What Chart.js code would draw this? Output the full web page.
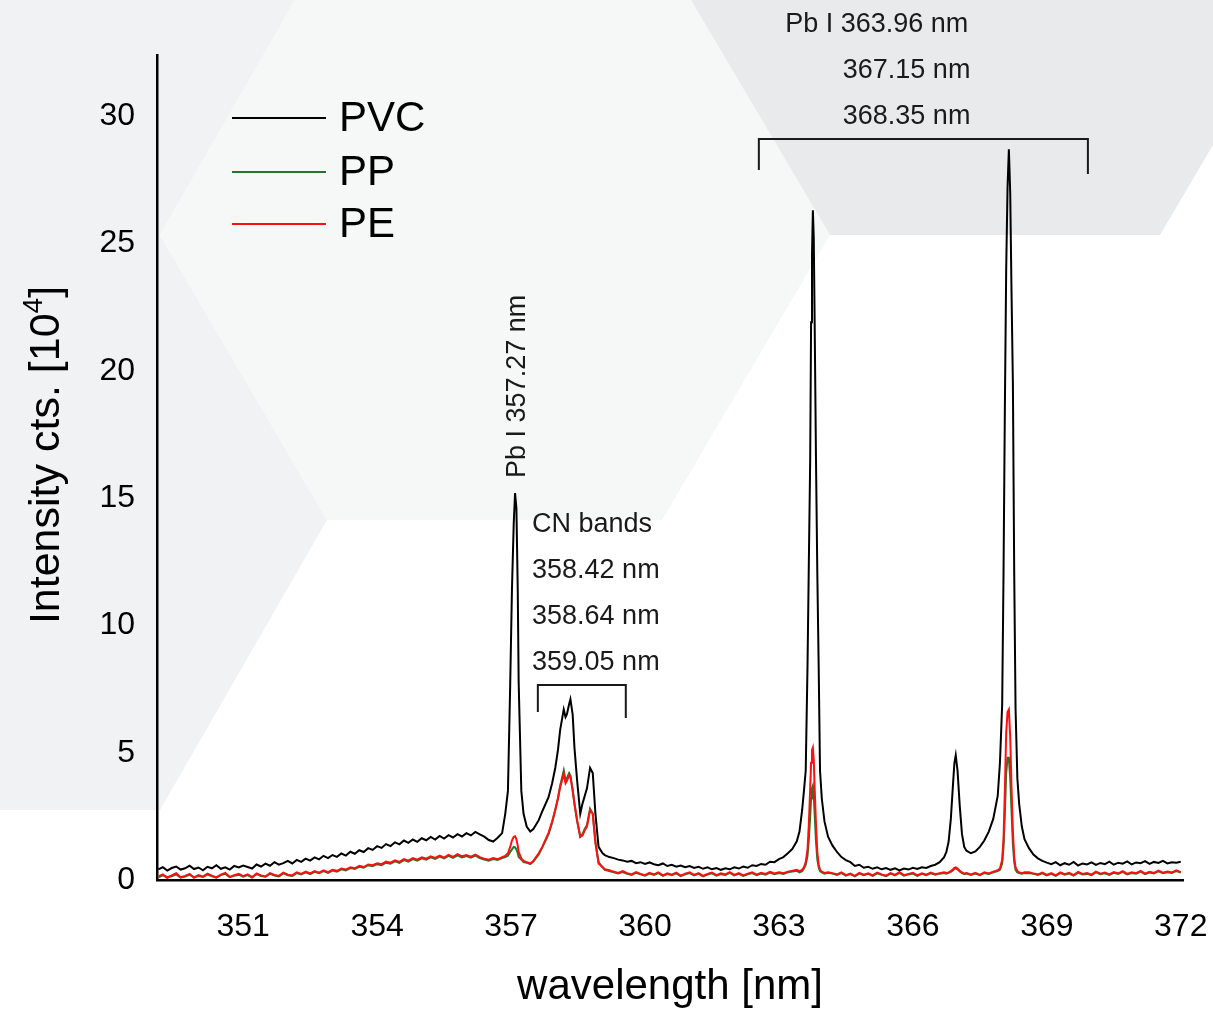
<!DOCTYPE html>
<html>
<head>
<meta charset="utf-8">
<title>LIBS spectra PVC / PP / PE</title>
<script src="https://cdn.jsdelivr.net/npm/chart.js@4.4.1/dist/chart.umd.min.js"></script>
<style>
    html, body { margin: 0; padding: 0; background: #fff; }
    #wrap { position: relative; width: 1213px; height: 1009px; }
</style>
</head>
<body>
<div id="wrap"><canvas id="spectrum"></canvas></div>
<script>
// wavelength grid [nm] (finer steps around the lines)
const wavelength = [
    349.1, 349.2, 349.3, 349.4, 349.5, 349.6, 349.7, 349.8, 349.9, 350.0,
    350.1, 350.2, 350.3, 350.4, 350.5, 350.6, 350.7, 350.8, 350.9, 351.0,
    351.1, 351.2, 351.3, 351.4, 351.5, 351.6, 351.7, 351.8, 351.9, 352.0,
    352.1, 352.2, 352.3, 352.4, 352.5, 352.6, 352.7, 352.8, 352.9, 353.0,
    353.1, 353.2, 353.3, 353.4, 353.5, 353.6, 353.7, 353.8, 353.9, 354.0,
    354.1, 354.2, 354.3, 354.4, 354.5, 354.6, 354.7, 354.8, 354.9, 355.0,
    355.1, 355.2, 355.3, 355.4, 355.5, 355.6, 355.7, 355.8, 355.9, 356.0,
    356.1, 356.2, 356.3, 356.4, 356.5, 356.6, 356.7, 356.8,
    // Pb I 357.27
    356.87, 356.93, 356.98, 357.02, 357.06, 357.09, 357.12, 357.15, 357.17, 357.23, 357.28, 357.35,
    // CN bands
    357.43, 357.5, 357.62, 357.7, 357.84, 357.92, 357.99, 358.05, 358.1, 358.14, 358.18, 358.22, 358.25, 358.3,
    358.33, 358.38, 358.42, 358.48, 358.55, 358.6, 358.65, 358.7, 358.77, 358.83, 358.89, 358.96, 359.05,
    359.1, 359.2, 359.3, 359.4, 359.5, 359.6, 359.7, 359.8, 359.9, 360.0,
    360.1, 360.2, 360.3, 360.4, 360.5, 360.6, 360.7, 360.8, 360.9, 361.0,
    361.1, 361.2, 361.3, 361.4, 361.5, 361.6, 361.7, 361.8, 361.9, 362.0,
    362.1, 362.2, 362.3, 362.4, 362.5, 362.6, 362.7, 362.8, 362.9, 363.0,
    363.1, 363.2, 363.3, 363.4,
    // Pb I 363.96
    363.46, 363.52, 363.56, 363.6, 363.64, 363.67, 363.7, 363.72, 363.74, 363.76,
    363.78, 363.8, 363.83, 363.86, 363.89, 363.92, 363.96, 364.02, 364.1,
    364.2, 364.3, 364.4, 364.5, 364.6, 364.7, 364.8, 364.9, 365.0,
    365.1, 365.2, 365.3, 365.4, 365.5, 365.6, 365.7, 365.8, 365.9, 366.0,
    366.1, 366.2, 366.3, 366.4, 366.5, 366.6, 366.7,
    // Pb I 367.15
    366.75, 366.8, 366.85, 366.9, 366.93, 366.96, 367.0, 367.05, 367.1, 367.15, 367.2,
    367.3, 367.4, 367.5, 367.6, 367.7, 367.8, 367.9,
    // Pb I 368.35
    367.95, 368.0, 368.03, 368.06, 368.09, 368.12, 368.15, 368.18, 368.21, 368.24, 368.27, 368.3,
    368.34, 368.38, 368.44, 368.5,
    368.6, 368.7, 368.8, 368.9, 369.0,
    369.1, 369.2, 369.3, 369.4, 369.5, 369.6, 369.7, 369.8, 369.9, 370.0,
    370.1, 370.2, 370.3, 370.4, 370.5, 370.6, 370.7, 370.8, 370.9, 371.0,
    371.1, 371.2, 371.3, 371.4, 371.5, 371.6, 371.7, 371.8, 371.9, 372.0
];

// intensity [10^4 cts]
const pvcCounts = [
    0.42, 0.50, 0.37, 0.47, 0.53, 0.41, 0.46, 0.56, 0.43, 0.49,
    0.38, 0.52, 0.46, 0.58, 0.44, 0.50, 0.41, 0.55, 0.49, 0.57,
    0.51, 0.45, 0.61, 0.53, 0.64, 0.56, 0.70, 0.60, 0.66, 0.75,
    0.65, 0.79, 0.71, 0.84, 0.76, 0.89, 0.81, 0.95, 0.86, 0.98,
    0.91, 1.04, 0.96, 1.11, 1.03, 1.17, 1.10, 1.25, 1.18, 1.33,
    1.26, 1.41, 1.33, 1.48, 1.40, 1.55, 1.46, 1.59, 1.50, 1.64,
    1.56, 1.69, 1.59, 1.73, 1.63, 1.76, 1.67, 1.80, 1.71, 1.84,
    1.75, 1.89, 1.79, 1.70, 1.57, 1.51, 1.66, 1.84,
    2.6, 3.5, 7.6, 11.4, 14.0, 15.2, 14.6, 11.4, 7.8, 3.5, 2.6, 2.1,
    1.9, 2.0, 2.35, 2.7, 3.25, 3.8, 4.4, 5.1, 5.9, 6.3, 6.7, 6.4, 6.5, 6.9,
    7.1, 6.5, 5.2, 3.9, 2.6, 3.0, 3.3, 3.6, 4.4, 4.2, 2.6, 1.3, 1.05,
    0.98, 0.90, 0.86, 0.80, 0.77, 0.72, 0.75, 0.66, 0.70, 0.63,
    0.69, 0.62, 0.58, 0.65, 0.55, 0.60, 0.52, 0.57, 0.50, 0.55,
    0.47, 0.52, 0.44, 0.50, 0.42, 0.47, 0.40, 0.46, 0.42, 0.50,
    0.45, 0.53, 0.48, 0.58, 0.55, 0.63, 0.60, 0.72, 0.70, 0.82,
    0.90, 1.05, 1.22, 1.52,
    1.9, 2.75, 3.5, 4.3, 8.4, 12.5, 16.5, 21.9, 24.5, 26.3,
    25.2, 21.9, 16.5, 12.0, 8.4, 4.3, 3.2, 2.3, 1.7,
    1.35, 1.10, 0.90, 0.78, 0.70, 0.55, 0.60, 0.48, 0.52,
    0.44, 0.50, 0.42, 0.47, 0.40, 0.46, 0.38, 0.45, 0.41, 0.48,
    0.43, 0.50, 0.47, 0.55, 0.60, 0.70, 0.90,
    1.1, 1.5, 2.4, 3.8, 4.6, 4.9, 4.3, 2.9, 1.8, 1.3, 1.15,
    1.05, 1.12, 1.3, 1.55, 1.9, 2.4, 3.3,
    4.6, 6.9, 12.0, 18.5, 24.0, 27.2, 28.7, 27.0, 23.0, 19.5, 12.0, 6.7,
    4.0, 3.0, 2.1, 1.6,
    1.25, 1.00, 0.85, 0.75, 0.68,
    0.62, 0.70, 0.58, 0.66, 0.60, 0.71, 0.57, 0.65, 0.61, 0.69,
    0.59, 0.67, 0.62, 0.72, 0.60, 0.68, 0.64, 0.73, 0.61, 0.69,
    0.66, 0.74, 0.63, 0.71, 0.67, 0.75, 0.65, 0.70, 0.68, 0.72
];

const ppCounts = [
    0.10, 0.18, 0.12, 0.15, 0.22, 0.09, 0.14, 0.20, 0.11, 0.16,
    0.12, 0.21, 0.15, 0.09, 0.19, 0.24, 0.11, 0.17, 0.21, 0.13,
    0.19, 0.10, 0.23, 0.16, 0.13, 0.24, 0.18, 0.14, 0.26, 0.19,
    0.16, 0.27, 0.22, 0.30, 0.23, 0.32, 0.27, 0.35, 0.28, 0.37,
    0.33, 0.42, 0.38, 0.47, 0.43, 0.52, 0.48, 0.58, 0.54, 0.62,
    0.58, 0.68, 0.64, 0.73, 0.67, 0.78, 0.72, 0.82, 0.76, 0.85,
    0.80, 0.89, 0.83, 0.92, 0.85, 0.95, 0.87, 0.97, 0.89, 0.94,
    0.88, 0.96, 0.86, 0.80, 0.76, 0.82, 0.79, 0.86,
    0.9, 0.95, 1.1, 1.2, 1.3, 1.28, 1.2, 1.05, 0.9, 0.8, 0.7, 0.68,
    0.62, 0.72, 1.0, 1.28, 1.8, 2.25, 2.75, 3.2, 3.7, 4.0, 4.3, 3.9, 4.0, 4.2,
    4.1, 3.55, 3.0, 2.3, 1.7, 1.8, 2.0, 2.15, 2.8, 2.6, 1.5, 0.7, 0.5,
    0.40, 0.35, 0.30, 0.26, 0.31, 0.24, 0.20, 0.28, 0.22, 0.17,
    0.25, 0.20, 0.27, 0.16, 0.23, 0.19, 0.26, 0.15, 0.22, 0.27,
    0.18, 0.24, 0.14, 0.21, 0.26, 0.17, 0.23, 0.20, 0.28, 0.18,
    0.24, 0.16, 0.22, 0.27, 0.19, 0.25, 0.21, 0.29, 0.23, 0.27,
    0.24, 0.30, 0.33, 0.36,
    0.3, 0.35, 0.45, 0.6, 0.95, 1.6, 2.5, 3.2, 3.6, 3.7,
    3.3, 2.6, 1.5, 0.8, 0.5, 0.35, 0.3, 0.25, 0.28,
    0.25, 0.20, 0.27, 0.17, 0.23, 0.14, 0.25, 0.19, 0.24,
    0.16, 0.26, 0.20, 0.15, 0.25, 0.18, 0.28, 0.17, 0.22, 0.25,
    0.16, 0.24, 0.19, 0.26, 0.21, 0.25, 0.27,
    0.25, 0.28, 0.32, 0.38, 0.44, 0.46, 0.42, 0.33, 0.27, 0.24, 0.25,
    0.20, 0.25, 0.19, 0.27, 0.24, 0.30, 0.35,
    0.4, 0.65, 1.3, 2.6, 4.2, 4.8, 4.8, 4.0, 2.7, 1.4, 0.7, 0.4,
    0.3, 0.27, 0.25, 0.27,
    0.27, 0.24, 0.20, 0.26, 0.18,
    0.24, 0.16, 0.27, 0.21, 0.25, 0.17, 0.29, 0.22, 0.24, 0.19,
    0.30, 0.23, 0.26, 0.20, 0.28, 0.24, 0.32, 0.22, 0.27, 0.25,
    0.33, 0.23, 0.29, 0.26, 0.34, 0.27, 0.30, 0.28, 0.35, 0.29
];

const peCounts = [
    0.14, 0.22, 0.08, 0.18, 0.27, 0.11, 0.16, 0.24, 0.09, 0.19,
    0.13, 0.25, 0.17, 0.10, 0.21, 0.28, 0.12, 0.19, 0.24, 0.15,
    0.22, 0.11, 0.26, 0.18, 0.14, 0.27, 0.20, 0.16, 0.29, 0.21,
    0.18, 0.30, 0.24, 0.33, 0.26, 0.35, 0.29, 0.38, 0.31, 0.40,
    0.36, 0.45, 0.41, 0.50, 0.46, 0.56, 0.51, 0.61, 0.58, 0.66,
    0.62, 0.72, 0.68, 0.77, 0.71, 0.82, 0.76, 0.86, 0.80, 0.89,
    0.84, 0.93, 0.87, 0.96, 0.88, 0.99, 0.91, 1.02, 0.93, 0.98,
    0.92, 1.00, 0.90, 0.84, 0.80, 0.86, 0.82, 0.90,
    0.95, 1.05, 1.3, 1.55, 1.7, 1.72, 1.6, 1.35, 1.1, 0.85, 0.75, 0.7,
    0.65, 0.75, 1.05, 1.3, 1.85, 2.3, 2.75, 3.2, 3.65, 3.9, 4.2, 3.8, 3.9, 4.1,
    4.05, 3.5, 3.0, 2.35, 1.7, 1.75, 1.95, 2.1, 2.75, 2.6, 1.45, 0.65, 0.5,
    0.42, 0.38, 0.33, 0.28, 0.35, 0.27, 0.22, 0.31, 0.24, 0.19,
    0.28, 0.22, 0.30, 0.18, 0.26, 0.21, 0.29, 0.17, 0.25, 0.30,
    0.20, 0.27, 0.16, 0.24, 0.29, 0.19, 0.26, 0.22, 0.31, 0.20,
    0.27, 0.18, 0.25, 0.30, 0.21, 0.28, 0.24, 0.32, 0.26, 0.30,
    0.27, 0.33, 0.36, 0.40,
    0.35, 0.4, 0.5, 0.7, 1.2, 2.2, 3.6, 4.6, 5.1, 5.2,
    4.7, 3.6, 2.2, 1.1, 0.6, 0.4, 0.33, 0.28, 0.3,
    0.27, 0.22, 0.30, 0.19, 0.25, 0.16, 0.28, 0.21, 0.26,
    0.18, 0.29, 0.22, 0.17, 0.27, 0.20, 0.31, 0.19, 0.24, 0.28,
    0.18, 0.26, 0.21, 0.29, 0.23, 0.27, 0.30,
    0.28, 0.3, 0.35, 0.42, 0.48, 0.5, 0.45, 0.36, 0.3, 0.25, 0.27,
    0.22, 0.28, 0.20, 0.30, 0.26, 0.33, 0.38,
    0.45, 0.8, 1.6, 3.5, 5.8, 6.6, 6.7, 5.6, 3.6, 1.9, 0.9, 0.5,
    0.35, 0.3, 0.27, 0.3,
    0.30, 0.26, 0.22, 0.29, 0.20,
    0.27, 0.18, 0.30, 0.23, 0.28, 0.19, 0.32, 0.24, 0.27, 0.21,
    0.33, 0.25, 0.29, 0.22, 0.31, 0.26, 0.35, 0.24, 0.30, 0.27,
    0.36, 0.25, 0.32, 0.28, 0.37, 0.29, 0.33, 0.30, 0.38, 0.31
];

const seriesNames = ['PVC', 'PP', 'PE'];
const seriesColors = ['#000000', '#22782a', '#ff1010'];
const xTicks = [351, 354, 357, 360, 363, 366, 369, 372];
const yTicks = [0, 5, 10, 15, 20, 25, 30];

const FONT = '"Liberation Sans", Arial, sans-serif';

[pvcCounts, ppCounts, peCounts].forEach((s, i) => {
    if (s.length !== wavelength.length) console.error(seriesNames[i], s.length, wavelength.length);
});

function toPoints(values) {
    return wavelength.map((w, i) => ({ x: w, y: values[i] }));
}

// 배경 육각형 (canvas px)
const hexShapes = [
    { color: '#f1f2f4', pts: [[0, 0], [295, 0], [160, 235], [327, 520], [160, 810], [0, 810]] },
    { color: '#f6f7f7', pts: [[295, 0], [691, 0], [830, 235], [662, 520], [327, 520], [160, 235]] },
    { color: '#e9eaec', pts: [[691, 0], [1213, 0], [1213, 145], [1160, 235], [830, 235]] }
];

const hexBackground = {
    id: 'hexBackground',
    beforeDraw(chart) {
        const ctx = chart.ctx;
        ctx.save();
        ctx.fillStyle = '#ffffff';
        ctx.fillRect(0, 0, chart.width, chart.height);
        hexShapes.forEach(h => {
            ctx.fillStyle = h.color;
            ctx.beginPath();
            h.pts.forEach((p, i) => i ? ctx.lineTo(p[0], p[1]) : ctx.moveTo(p[0], p[1]));
            ctx.closePath();
            ctx.fill();
        });
        ctx.restore();
    }
};

// line labels, in data units
const notes = [
    { text: 'CN bands', x: 357.47, y: 13.67 },
    { text: '358.42 nm', x: 357.47, y: 11.86 },
    { text: '358.64 nm', x: 357.47, y: 10.05 },
    { text: '359.05 nm', x: 357.47, y: 8.25 },
    { text: 'Pb I 363.96 nm', x: 363.14, y: 33.31 },
    { text: '367.15 nm', x: 364.43, y: 31.50 },
    { text: '368.35 nm', x: 364.43, y: 29.69 }
];
const brackets = [
    { x0: 357.60, x1: 359.57, y: 7.66, y0: 6.60, y1: 6.36 },
    { x0: 362.55, x1: 369.92, y: 29.10, y0: 27.88, y1: 27.73 }
];

const annotations = {
    id: 'annotations',
    afterDraw(chart) {
        const ctx = chart.ctx;
        const xs = chart.scales.x, ys = chart.scales.y;
        ctx.save();

        // brackets
        ctx.strokeStyle = '#1a1a1a';
        ctx.lineWidth = 2;
        brackets.forEach(b => {
            ctx.beginPath();
            ctx.moveTo(xs.getPixelForValue(b.x0), ys.getPixelForValue(b.y0));
            ctx.lineTo(xs.getPixelForValue(b.x0), ys.getPixelForValue(b.y));
            ctx.lineTo(xs.getPixelForValue(b.x1), ys.getPixelForValue(b.y));
            ctx.lineTo(xs.getPixelForValue(b.x1), ys.getPixelForValue(b.y1));
            ctx.stroke();
        });

        // text labels
        ctx.fillStyle = '#1a1a1a';
        ctx.font = `27px ${FONT}`;
        ctx.textAlign = 'left';
        ctx.textBaseline = 'alphabetic';
        notes.forEach(n => ctx.fillText(n.text, xs.getPixelForValue(n.x), ys.getPixelForValue(n.y)));

        // rotated Pb I 357.27 label
        ctx.save();
        ctx.translate(xs.getPixelForValue(357.31), ys.getPixelForValue(15.79));
        ctx.rotate(-Math.PI / 2);
        ctx.fillText('Pb I 357.27 nm', 0, 0);
        ctx.restore();

        // legend
        const rows = [118, 172, 224];
        chart.data.datasets.forEach((ds, i) => {
            ctx.strokeStyle = ds.borderColor;
            ctx.lineWidth = 2;
            ctx.beginPath();
            ctx.moveTo(232, rows[i]);
            ctx.lineTo(326, rows[i]);
            ctx.stroke();
            ctx.fillStyle = '#000';
            ctx.font = `42px ${FONT}`;
            ctx.textBaseline = 'middle';
            ctx.fillText(ds.label, 339, rows[i] + 1);
        });

        // y axis title with superscript
        ctx.translate(59, 455);
        ctx.rotate(-Math.PI / 2);
        ctx.fillStyle = '#000';
        ctx.textBaseline = 'alphabetic';
        const head = 'Intensity cts. [10', sup = '4', tail = ']';
        ctx.font = `43px ${FONT}`;
        const wHead = ctx.measureText(head).width;
        const wTail = ctx.measureText(tail).width;
        ctx.font = `28px ${FONT}`;
        const wSup = ctx.measureText(sup).width;
        let tx = -(wHead + wSup + wTail) / 2;
        ctx.font = `43px ${FONT}`;
        ctx.fillText(head, tx, 0);
        tx += wHead;
        ctx.font = `28px ${FONT}`;
        ctx.fillText(sup, tx, -17);
        tx += wSup;
        ctx.font = `43px ${FONT}`;
        ctx.fillText(tail, tx, 0);

        ctx.restore();
    }
};

const datasets = [pvcCounts, ppCounts, peCounts].map((vals, i) => ({
    label: seriesNames[i],
    data: toPoints(vals),
    borderColor: seriesColors[i],
    borderWidth: 2,
    pointRadius: 0,
    tension: 0,
    fill: false,
    order: [0, 2, 1][i]
}));

new Chart(document.getElementById('spectrum'), {
    type: 'line',
    data: { datasets },
    plugins: [hexBackground, annotations],
    options: {
        responsive: true,
        maintainAspectRatio: false,
        animation: false,
        layout: { padding: { top: 55, right: 30, left: 0, bottom: 0 } },
        plugins: {
            legend: { display: false },
            tooltip: { enabled: false }
        },
        scales: {
            x: {
                type: 'linear',
                min: 349.07,
                max: 372.05,
                afterBuildTicks: s => { s.ticks = xTicks.map(v => ({ value: v })); },
                afterFit: s => {
                    s.height = 129;
                    s.paddingLeft = 0;
                    s.paddingRight = 0;
                },
                grid: { display: false, drawTicks: false },
                border: { display: true, color: '#000', width: 2.5 },
                ticks: {
                    color: '#000',
                    font: { family: FONT, size: 32 },
                    padding: 28,
                    autoSkip: false,
                    maxRotation: 0,
                    callback: v => String(v)
                },
                title: {
                    display: true,
                    text: 'wavelength [nm]',
                    color: '#000',
                    font: { family: FONT, size: 42, lineHeight: 1.05 },
                    padding: { top: 0, bottom: 0 }
                }
            },
            y: {
                min: 0,
                max: 32.4,
                afterBuildTicks: s => { s.ticks = yTicks.map(v => ({ value: v })); },
                afterFit: s => {
                    s.width = 157;
                    s.paddingTop = 0;
                    s.paddingBottom = 0;
                },
                grid: { display: false, drawTicks: false },
                border: { display: true, color: '#000', width: 2.5 },
                ticks: {
                    color: '#000',
                    font: { family: FONT, size: 32 },
                    padding: 22,
                    callback: v => String(v)
                }
            }
        }
    }
});
</script>
</body>
</html>
